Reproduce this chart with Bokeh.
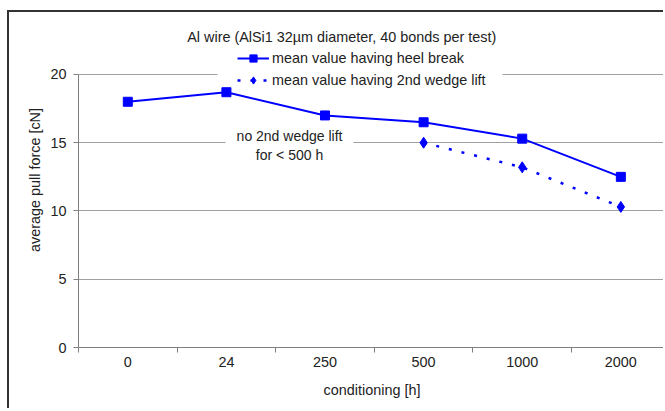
from bokeh.plotting import figure
from bokeh.models import Range1d, FixedTicker, Label, Legend, LegendItem, BoxAnnotation
from bokeh.embed import file_html
from bokeh.resources import INLINE

# ---- data ----
conditioning = ["0", "24", "250", "500", "1000", "2000"]
heel_break = [18.0, 18.7, 17.0, 16.5, 15.3, 12.5]
wedge_conditioning = ["500", "1000", "2000"]
wedge_lift = [15.0, 13.2, 10.3]
y_ticks = [0, 5, 10, 15, 20]

title_text = "Al wire (AlSi1 32\u00b5m diameter, 40 bonds per test)"
note_text = "no 2nd wedge lift\nfor < 500 h"

FONT = "Liberation Sans"
TXT = "#222222"
BLUE = "#0000ff"
FS = "14.4px"

cat_pos = {c: i + 0.5 for i, c in enumerate(conditioning)}
x_heel = [cat_pos[c] for c in conditioning]
x_wedge = [cat_pos[c] for c in wedge_conditioning]

p = figure(width=656, height=398, output_backend="svg", toolbar_location=None,
           x_range=Range1d(0, 5.953), y_range=Range1d(0, 24.54),
           min_border_left=69, min_border_right=0, min_border_top=0,
           min_border_bottom=63)
p.outline_line_color = None
p.background_fill_color = "white"
p.border_fill_color = "white"
p.styles = {"border-left": "2px solid #333333", "border-top": "2px solid #333333",
            "margin-top": "10px", "margin-left": "7px"}

# grid
p.xgrid.visible = False
yt = FixedTicker(ticks=y_ticks)
p.yaxis.ticker = yt
p.ygrid.ticker = yt
p.ygrid.grid_line_color = "#a0a0a0"
p.ygrid.grid_line_width = 1

# x axis (labels centred, ticks between categories)
p.xaxis.ticker = FixedTicker(ticks=x_heel, minor_ticks=list(range(len(conditioning) + 1)))
p.xaxis.major_label_overrides = {cat_pos[c]: c for c in conditioning}
p.xaxis.major_tick_out = 0
p.xaxis.major_tick_in = 0
p.xaxis.minor_tick_out = 5
p.xaxis.minor_tick_in = 0
p.xaxis.minor_tick_line_color = "#808080"
p.xaxis.axis_line_color = "#808080"
p.xaxis.axis_label = "conditioning [h]"
p.xaxis.major_label_standoff = 4
p.xaxis.axis_label_standoff = 12

# y axis
p.yaxis.bounds = (0, 20)
p.yaxis.major_tick_out = 5
p.yaxis.major_tick_in = 0
p.yaxis.minor_tick_out = 0
p.yaxis.minor_tick_in = 0
p.yaxis.major_tick_line_color = "#808080"
p.yaxis.axis_line_color = "#808080"
p.yaxis.axis_label = "average pull force [cN]"
p.yaxis.major_label_standoff = 7
p.yaxis.axis_label_standoff = 4

for ax in (p.xaxis, p.yaxis):
    ax.major_label_text_font = FONT
    ax.major_label_text_font_size = FS
    ax.major_label_text_color = TXT
    ax.axis_label_text_font = FONT
    ax.axis_label_text_font_size = FS
    ax.axis_label_text_font_style = "normal"
    ax.axis_label_text_color = TXT

# white patch behind the legend, interrupting the top gridline (as in the original)
p.add_layout(BoxAnnotation(left=1.41, right=4.30, bottom=19.7, top=20.3,
                           fill_color="white", fill_alpha=1.0, line_color=None,
                           level="underlay"))

# series
l1 = p.line(x_heel, heel_break, line_color=BLUE, line_width=2)
s1 = p.scatter(x_heel, heel_break, marker="square", size=9, fill_color=BLUE, line_color=BLUE)
l2 = p.line(x_wedge, wedge_lift, line_color=BLUE, line_width=2.5, line_dash="3 10")
s2 = p.scatter(x_wedge, wedge_lift, marker="diamond", size=11, fill_color=BLUE, line_color=BLUE)

# annotations
p.add_layout(Label(x=2.67, y=22.75, text=title_text, text_align="center",
                   text_baseline="middle", text_font=FONT, text_font_size=FS,
                   text_color=TXT))
p.add_layout(Label(x=2.14, y=14.8, text=note_text, text_align="center",
                   text_baseline="middle", text_font=FONT, text_font_size="14px",
                   text_color=TXT, background_fill_color="white",
                   padding=dict(left=11, right=11, top=1, bottom=1)))

legend = Legend(items=[LegendItem(label="mean value having heel break", renderers=[l1, s1]),
                       LegendItem(label="mean value having 2nd wedge lift", renderers=[l2, s2])],
                location=(159, 258), orientation="vertical",
                glyph_width=32, glyph_height=18, label_height=18, spacing=4,
                padding=0, label_standoff=3, margin=0,
                border_line_color=None, background_fill_alpha=0.0,
                label_text_font=FONT, label_text_font_size=FS, label_text_color=TXT)
p.add_layout(legend)

open("out.html", "w").write(file_html(p, INLINE))
